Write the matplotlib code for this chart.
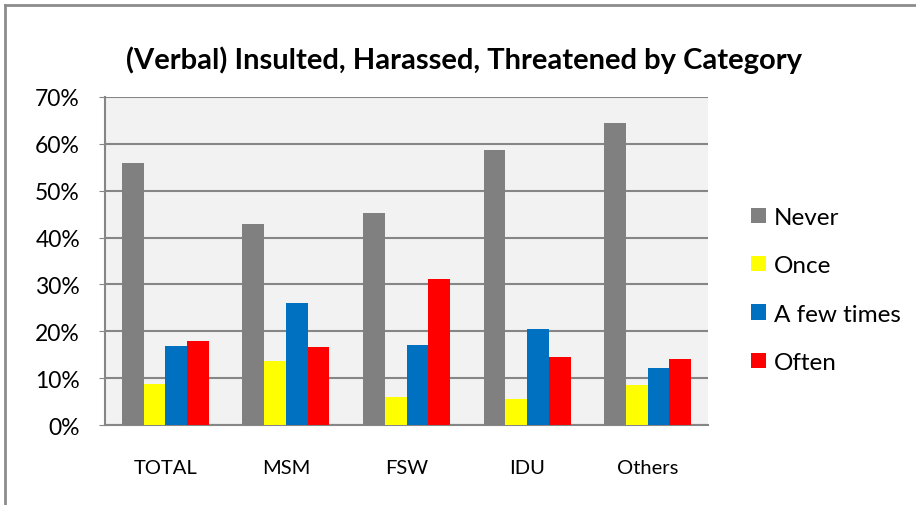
import numpy as np
import matplotlib
matplotlib.use("Agg")
import matplotlib.pyplot as plt
from matplotlib.lines import Line2D
from matplotlib.ticker import FuncFormatter

# dati (percentuali)
categories = ["TOTAL", "MSM", "FSW", "IDU", "Others"]
series_names = ["Never", "Once", "A few times", "Often"]
never = [55.8, 42.9, 45.2, 58.7, 64.5]
once = [8.8, 13.7, 6.0, 5.7, 8.6]
few_times = [16.8, 26.0, 17.0, 20.5, 12.2]
often = [18.0, 16.7, 31.1, 14.5, 14.1]
colors = ["#808080", "#FFFF00", "#0070C0", "#FF0000"]

plt.rcParams["font.family"] = ["Lato", "DejaVu Sans"]

W, H = 916, 506
fig = plt.figure(figsize=(W / 100, H / 100), dpi=100)
fig.patch.set_facecolor("white")

# area del grafico in pixel
left, right, top, bottom = 105, 708, 97.7, 426.3
ax = fig.add_axes([left / W, 1 - bottom / H, (right - left) / W, (bottom - top) / H])
ax.set_facecolor("#F2F2F2")

x = np.arange(len(categories))
width = 0.18
all_series = [never, once, few_times, often]
for k, (vals, name, col) in enumerate(zip(all_series, series_names, colors)):
    ax.bar(x + (k - 1.5) * width, vals, width, color=col, label=name, zorder=3)

ax.set_xlim(-0.5, len(categories) - 0.5)
ax.set_ylim(0, 70)
ax.set_yticks(np.arange(0, 71, 10))
ax.yaxis.set_major_formatter(FuncFormatter(lambda v, p: f"{int(v)}%"))
ax.set_xticks(x)
ax.set_xticklabels(categories)
ax.yaxis.grid(True, color="#868686", linewidth=1.5, zorder=0)
ax.set_axisbelow(True)

for s in ["left", "bottom"]:
    ax.spines[s].set_color("#868686")
    ax.spines[s].set_linewidth(1.5)
for s in ["top", "right"]:
    ax.spines[s].set_visible(False)

ax.tick_params(axis="y", labelsize=16.5, length=4, color="#868686", pad=14)
ax.tick_params(axis="x", labelsize=14.5, length=0, pad=24)

# titolo
fig.text(464.5 / W, 1 - 60 / H, "(Verbal) Insulted, Harassed, Threatened by Category",
         ha="center", va="center", fontsize=21, fontweight="bold")

# legenda
leg = fig.legend(loc="center left", bbox_to_anchor=(751 / W, 1 - 291 / H),
                 frameon=False, fontsize=17.5, handlelength=0.6, handleheight=0.6,
                 handletextpad=0.35, labelspacing=1.13, borderpad=0, borderaxespad=0)

# bordo esterno
fig.add_artist(Line2D([4.5 / W, 4.5 / W], [0, 1 - 5.5 / H], transform=fig.transFigure,
                      color="#8C8C8C", linewidth=2))
fig.add_artist(Line2D([4.5 / W, 1], [1 - 5.5 / H, 1 - 5.5 / H], transform=fig.transFigure,
                      color="#8C8C8C", linewidth=2))

fig.savefig("out.png", dpi=100)
